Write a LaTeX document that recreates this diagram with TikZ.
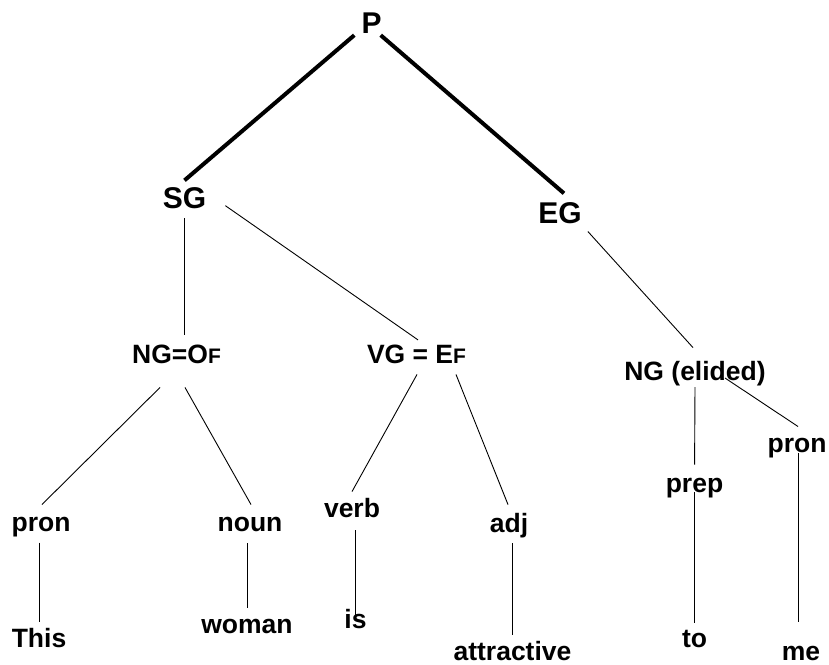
\documentclass[tikz,border=0pt]{standalone}
\usepackage{fontspec}
\setmainfont{Liberation Sans}
\usetikzlibrary{calc}
\tikzset{
  word/.style={font=\fontsize{26.5}{30}\selectfont\bfseries, inner sep=0pt, anchor=base},
  phrase/.style={word, font=\fontsize{30}{34}\selectfont\bfseries},
  branch/.style={line width=0.9pt},
  mainbranch/.style={line width=4pt}
}
\newcommand{\lowcap}[1]{{\fontsize{21}{24}\selectfont #1}}

\begin{document}
\begin{tikzpicture}[x=1pt,y=-1pt]
  \useasboundingbox (0,0) rectangle (829,664);
  % Clause and groups
  \node[phrase] (P) at (371.5,33) {P};
  \node[phrase] (SG) at (184.5,208) {SG};
  \node[phrase] (EG) at (560,223) {EG};
  \node[word] (NGo) at (176.5,363) {NG=O\lowcap{F}};
  \node[word] (VG) at (416.5,363) {VG = E\lowcap{F}};
  \node[word] (NGe) at (695,380) {NG (elided)};
  % Word classes
  \node[word] (pronA) at (41,531) {pron};
  \node[word] (noun) at (250,531) {noun};
  \node[word] (verb) at (352,517) {verb};
  \node[word] (adj) at (509,532) {adj};
  \node[word] (prep) at (694.5,492) {prep};
  \node[word] (pronB) at (797,452) {pron};
  % Words
  \node[word] (this) at (39,647) {This};
  \node[word] (woman) at (247,633) {woman};
  \node[word] (is) at (355.5,628) {is};
  \node[word] (attractive) at (512.5,660) {attractive};
  \node[word] (to) at (694.5,647) {to};
  \node[word] (me) at (801,660) {me};
  % Top branches
  \draw[mainbranch] ($(P.south west)+(-7,2)$) -- ($(SG.north)+(0,-6.5)$);
  \draw[mainbranch] ($(P.south east)+(-1,2)$) -- ($(EG.north)+(4,-8.5)$);
  % Group branches
  \draw[branch, shorten <=10pt, shorten >=9pt] (SG.south) -- (SG.south |- NGo.north);
  \draw[branch] ($(SG.east)+(19,8)$) -- ($(VG.north)+(1.5,-4.4)$);
  \draw[branch] ($(EG.south east)+(6,8)$) -- ($(NGe.north)+(-2,-13)$);
  \draw[branch] ($(NGo.south)+(-16.5,24)$) -- ($(pronA.north)+(1,-12)$);
  \draw[branch] ($(NGo.south)+(8.5,24)$) -- ($(noun.north)+(1,-12)$);
  \draw[branch] ($(VG.south)+(0.5,11)$) -- ($(verb.north)+(0,-6)$);
  \draw[branch] ($(VG.south)+(39.5,11)$) -- ($(adj.north)+(-1,-8)$);
  \draw[branch, shorten <=1.5pt, shorten >=13pt] (NGe.south) -- (prep.north);
  \draw[branch] ($(NGe.base)+(30,-2)$) -- ($(pronB.north)+(1,-11)$);
  % Word branches
  \draw[branch, shorten <=6pt, shorten >=6pt] (this.north |- pronA.south) -- (this.north);
  \draw[branch, shorten <=12pt, shorten >=11pt] (woman.north |- noun.south) -- (woman.north);
  \draw[branch, shorten <=13pt] (is.north |- verb.south) -- ($(is.base)+(0,-8)$);
  \draw[branch, shorten <=5.5pt, shorten >=5.5pt] (attractive.north |- adj.south) -- (attractive.north);
  \draw[branch, shorten >=6.5pt] (prep.base) -- (to.north);
  \draw[branch, shorten >=24pt] ($(pronB.base)+(1,1)$) -- ($(pronB.base |- me.north)+(1,0)$);
\end{tikzpicture}
\end{document}
